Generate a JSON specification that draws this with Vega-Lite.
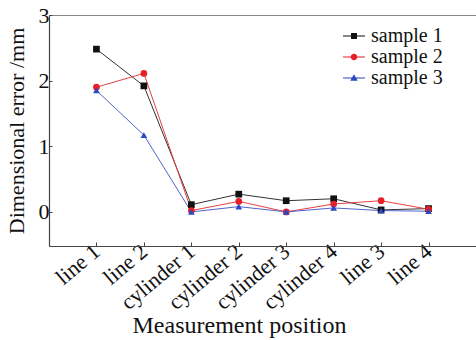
{
  "$schema": "https://vega.github.io/schema/vega-lite/v6.json",
  "width": 427,
  "height": 231,
  "autosize": "none",
  "padding": {"left": 49, "top": 15, "right": 0, "bottom": 94},
  "background": "white",
  "config": {
    "view": {"stroke": "#888888", "strokeWidth": 1},
    "font": "Liberation Serif",
    "axis": {"grid": false, "domainColor": "#444444", "tickColor": "#444444", "labelColor": "#111111", "titleColor": "#111111", "labelFont": "Liberation Serif", "titleFont": "Liberation Serif", "titleFontWeight": "normal"},
    "legend": {"labelFont": "Liberation Serif"}
  },
  "data": {
    "values": [
      {"pos": "line 1", "sample": "sample 1", "err": 2.48},
      {"pos": "line 2", "sample": "sample 1", "err": 1.92},
      {"pos": "cylinder 1", "sample": "sample 1", "err": 0.11},
      {"pos": "cylinder 2", "sample": "sample 1", "err": 0.27},
      {"pos": "cylinder 3", "sample": "sample 1", "err": 0.17},
      {"pos": "cylinder 4", "sample": "sample 1", "err": 0.2},
      {"pos": "line 3", "sample": "sample 1", "err": 0.03},
      {"pos": "line 4", "sample": "sample 1", "err": 0.05},
      {"pos": "line 1", "sample": "sample 2", "err": 1.9},
      {"pos": "line 2", "sample": "sample 2", "err": 2.11},
      {"pos": "cylinder 1", "sample": "sample 2", "err": 0.02},
      {"pos": "cylinder 2", "sample": "sample 2", "err": 0.16},
      {"pos": "cylinder 3", "sample": "sample 2", "err": 0.0},
      {"pos": "cylinder 4", "sample": "sample 2", "err": 0.12},
      {"pos": "line 3", "sample": "sample 2", "err": 0.17},
      {"pos": "line 4", "sample": "sample 2", "err": 0.04},
      {"pos": "line 1", "sample": "sample 3", "err": 1.85},
      {"pos": "line 2", "sample": "sample 3", "err": 1.17},
      {"pos": "cylinder 1", "sample": "sample 3", "err": 0.0},
      {"pos": "cylinder 2", "sample": "sample 3", "err": 0.08},
      {"pos": "cylinder 3", "sample": "sample 3", "err": 0.0},
      {"pos": "cylinder 4", "sample": "sample 3", "err": 0.06},
      {"pos": "line 3", "sample": "sample 3", "err": 0.02},
      {"pos": "line 4", "sample": "sample 3", "err": 0.01}
    ]
  },
  "encoding": {
    "x": {
      "field": "pos", "type": "nominal",
      "sort": ["line 1", "line 2", "cylinder 1", "cylinder 2", "cylinder 3", "cylinder 4", "line 3", "line 4"],
      "scale": {"type": "point", "padding": 1},
      "axis": {"title": "Measurement position", "labelAngle": -40, "labelAlign": "right", "labelBaseline": "middle", "labelFontSize": 22, "labelPadding": 6, "tickSize": -4, "titleFontSize": 24, "titleX": 190, "titleY": 86, "titleBaseline": "alphabetic", "domainWidth": 1.2}
    },
    "y": {
      "field": "err", "type": "quantitative",
      "scale": {"domain": [-0.52, 3], "nice": false, "zero": false},
      "axis": {"title": "Dimensional error /mm", "values": [0, 1, 2, 3], "labelFontSize": 22, "labelPadding": 3, "tickSize": -3, "titleFontSize": 22, "titleX": -26, "titleBaseline": "alphabetic", "domainWidth": 1.2}
    }
  },
  "layer": [
    {
      "mark": {"type": "line", "strokeWidth": 1},
      "encoding": {
        "detail": {"field": "sample"},
        "color": {"field": "sample", "type": "nominal", "scale": {"domain": ["sample 1", "sample 2", "sample 3"], "range": ["#333333", "#e84040", "#5063cc"]}, "legend": null}
      }
    },
    {
      "mark": {"type": "point", "filled": true, "opacity": 1},
      "encoding": {
        "color": {"field": "sample", "type": "nominal", "scale": {"domain": ["sample 1", "sample 2", "sample 3"], "range": ["#111111", "#e8202a", "#2a48c0"]}, "legend": null},
        "shape": {"field": "sample", "type": "nominal", "scale": {"domain": ["sample 1", "sample 2", "sample 3"], "range": ["square", "circle", "triangle-up"]}, "legend": null},
        "size": {"value": 45}
      }
    },
    {
      "mark": {"type": "point", "filled": true, "opacity": 0},
      "encoding": {
        "color": {"field": "sample", "type": "nominal", "scale": {"domain": ["sample 1", "sample 2", "sample 3"], "range": ["#111111", "#e8202a", "#2a48c0"]},
          "legend": {"title": null, "orient": "none", "legendX": 294, "legendY": 10, "labelFontSize": 20, "labelColor": "#111111", "symbolSize": 484, "symbolOpacity": 1, "symbolStrokeWidth": 0, "rowPadding": -2, "labelOffset": 6, "padding": 0,
            "encode": {"symbols": {"update": {"opacity": {"value": 1}, "fillOpacity": {"value": 1}}}}}},
        "shape": {"field": "sample", "type": "nominal", "scale": {"domain": ["sample 1", "sample 2", "sample 3"], "range": [
          "M-1,-0.05H1V0.05H-1ZM-0.27,-0.27H0.27V0.27H-0.27Z",
          "M-1,-0.05H1V0.05H-1ZM-0.3,0A0.3,0.3,0,1,1,0.3,0A0.3,0.3,0,1,1,-0.3,0Z",
          "M-1,-0.05H1V0.05H-1ZM0,-0.35L0.34,0.25L-0.34,0.25Z"
        ]}},
        "size": {"value": 45}
      }
    }
  ],
  "resolve": {"scale": {"color": "independent", "shape": "independent"}}
}
